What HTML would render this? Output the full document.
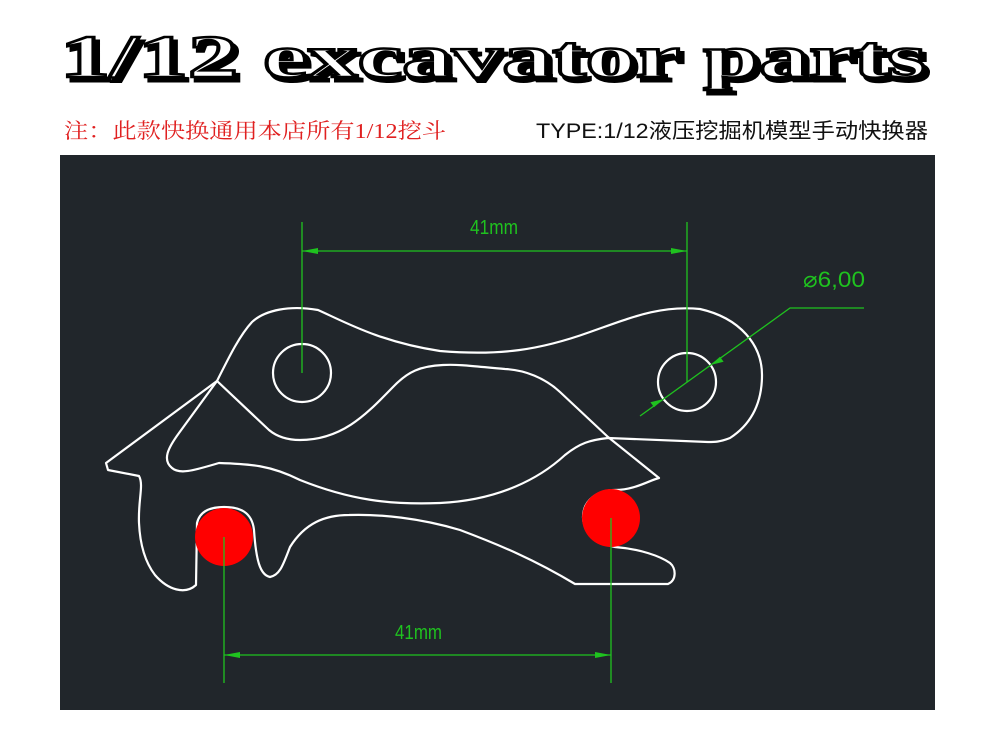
<!DOCTYPE html>
<html><head><meta charset="utf-8"><style>
html,body{margin:0;padding:0;background:#fff;width:1000px;height:750px;overflow:hidden}
</style></head><body>
<svg width="1000" height="750" viewBox="0 0 1000 750" xmlns="http://www.w3.org/2000/svg">
<rect width="1000" height="750" fill="#fff"/>
<text x="64" y="81" font-family="Liberation Serif, serif" font-weight="bold" font-size="60" textLength="866" lengthAdjust="spacingAndGlyphs" fill="#000" stroke="#000" stroke-width="3">1/12 excavator parts</text>
<text x="60" y="77" font-family="Liberation Serif, serif" font-weight="bold" font-size="60" textLength="866" lengthAdjust="spacingAndGlyphs" fill="#fff" stroke="#000" stroke-width="2.5">1/12 excavator parts</text>
<text x="64" y="138" font-family="Liberation Serif, 'Noto Serif CJK SC', serif" font-size="21" textLength="382" lengthAdjust="spacingAndGlyphs" fill="#e02020">注：此款快换通用本店所有1/12挖斗</text>
<text x="536" y="138" font-family="Liberation Sans, 'Noto Sans CJK SC', sans-serif" font-size="21" textLength="392" lengthAdjust="spacingAndGlyphs" fill="#111">TYPE:1/12液压挖掘机模型手动快换器</text>
<rect x="60" y="155" width="875" height="555" fill="#21262b"/>
<g fill="none" stroke="#fff" stroke-width="2.2" stroke-linejoin="round">
<path d="M217,381 C230,355 240,335 252,322 C265,310 290,305 318,310 C345,322 380,342 440,351 C500,356 540,350 590,332 C630,318 660,305 700,309 C740,318 762,345 762,375 C762,405 750,425 730,438 C720,442 715,442 708,442 L608,438 C590,440 580,443 565,455 C540,478 500,500 440,503 C390,505 350,500 300,480 C270,465 250,464 219,463 C195,470 180,475 172,468 C162,460 168,448 179,433 L217,381 Z"/>
<path d="M217,381 L106,463 L108,470 L139,476 C144,485 138,500 139,523 C140,545 145,562 155,575 C168,590 185,595 196,585 L197,523 C200,510 212,507 224,507 C240,507 252,512 254,530 C256,560 260,575 270,577 C280,575 283,565 290,547 C305,523 325,515 349,515 C380,514 420,518 460,530 C500,545 535,560 575,584 L668,584 C677,580 676,568 670,563 C660,556 640,549 615,547 C595,543 583,530 583,517 C583,500 598,490 615,490 C635,490 650,480 659,478 L608,437 L560,392 C545,378 525,370 505,369 C480,367 460,364 443,365 C420,366 408,372 395,385 C370,410 345,440 300,440 C285,440 275,435 269,430 L217,381 Z"/>
<circle cx="302" cy="373" r="29"/>
<circle cx="687" cy="382" r="29"/>
</g>
<circle cx="224" cy="537" r="29" fill="#ff0000"/>
<circle cx="611" cy="518" r="29" fill="#ff0000"/>
<g stroke="#1fc21f" stroke-width="1.3" fill="none">
<path d="M302,222 V373 M687,222 V382 M302,251 H687"/>
<path d="M224,537 V683 M611,518 V683 M224,655 H611"/>
<path d="M640,416 L790,308 H864"/>
</g>
<g fill="#1fc21f">
<path d="M302,251 l16,-3 v6 z M687,251 l-16,-3 v6 z"/>
<path d="M224,655 l16,-3 v6 z M611,655 l-16,-3 v6 z"/>
<path d="M663.5,399 L650.4,402.2 L654.0,407.2 Z"/>
<path d="M710.5,365 L723.6,361.8 L720.0,356.8 Z"/>
</g>
<g fill="#1fc21f" font-family="Liberation Sans, sans-serif">
<text x="470" y="234" font-size="20" textLength="48" lengthAdjust="spacingAndGlyphs">41mm</text>
<text x="395" y="639" font-size="20" textLength="47" lengthAdjust="spacingAndGlyphs">41mm</text>
<text x="803" y="287" font-size="22" textLength="62" lengthAdjust="spacingAndGlyphs">⌀6,00</text>
</g>
</svg>
</body></html>
